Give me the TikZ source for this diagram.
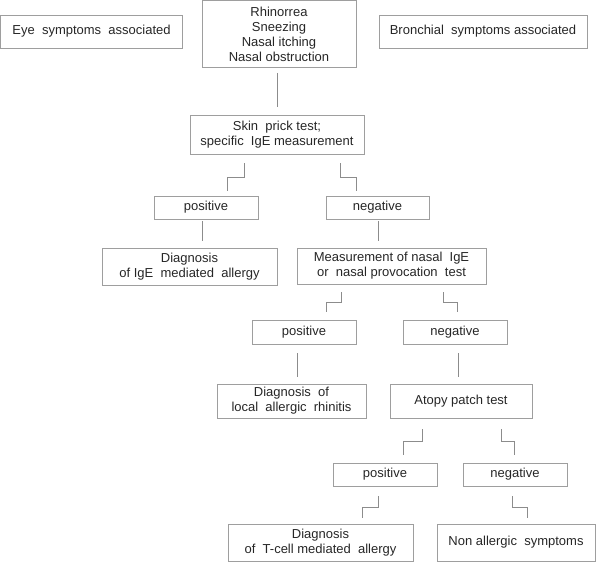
\documentclass[tikz,border=0pt]{standalone}
\usepackage{fontspec}
\setmainfont{Liberation Sans}
\usetikzlibrary{calc}
\begin{document}
\begin{tikzpicture}[x=1pt,y=-1pt,
  box/.style={draw=black!38, line width=0.8pt, inner sep=0pt, align=center,
    text=black!85, font=\fontsize{13}{15}\selectfont},
  conn/.style={draw=black!45, line width=0.8pt}]
\useasboundingbox (0,0) rectangle (600,562);
\node[box, minimum width=182pt, minimum height=33pt] (eye) at (91.5,31.5) {Eye~ symptoms~ associated};
\node[box, minimum width=154pt, minimum height=67pt] (top) at (279,34) {Rhinorrea\\Sneezing\\Nasal itching\\Nasal obstruction};
\node[box, minimum width=208pt, minimum height=33pt] (bron) at (483,31.5) {Bronchial~ symptoms associated};
\node[box, minimum width=174pt, minimum height=39pt] (skin) at (277,134.5) {Skin~ prick test;\\specific~ IgE measurement};
\node[box, minimum width=104pt, minimum height=23pt] (pos1) at (206,207.5) {positive};
\node[box, minimum width=103pt, minimum height=23pt] (neg1) at (377.5,207.5) {negative};
\node[box, minimum width=175pt, minimum height=37pt] (diagige) at (189.5,266.5) {Diagnosis\\of IgE~ mediated~ allergy};
\node[box, minimum width=189pt, minimum height=36pt] (meas) at (391.5,266) {Measurement of nasal~ IgE\\or~ nasal provocation~ test};
\node[box, minimum width=104pt, minimum height=24pt] (pos2) at (304,332) {positive};
\node[box, minimum width=104pt, minimum height=24pt] (neg2) at (455,332) {negative};
\node[box, minimum width=149pt, minimum height=34pt] (local) at (291.5,401) {Diagnosis~ of\\local~ allergic~ rhinitis};
\node[box, minimum width=142pt, minimum height=34pt] (atopy) at (461,401) {Atopy patch test};
\node[box, minimum width=104pt, minimum height=23pt] (pos3) at (385,474.5) {positive};
\node[box, minimum width=104pt, minimum height=23pt] (neg3) at (515,474.5) {negative};
\node[box, minimum width=185pt, minimum height=37pt] (tcell) at (320.5,542.5) {Diagnosis\\of~ T-cell mediated~ allergy};
\node[box, minimum width=158pt, minimum height=37pt] (nonall) at (516,542.5) {Non allergic~ symptoms};
% connectors
\draw[conn] ($(top.south)+(-2,5)$) -- ($(skin.north)+(0,-8)$);
\draw[conn] ($(skin.south)+(-33,9)$) -- ++(0,14) -| ($(pos1.north)+(21,-5)$);
\draw[conn] ($(skin.south)+(63,9)$) -- ++(0,14) -| ($(neg1.north)+(-21.5,-5)$);
\draw[conn] ($(pos1.south)+(-4,2)$) -- ($(diagige.north)+(12.5,-7)$);
\draw[conn] ($(neg1.south)+(0.5,2)$) -- ($(meas.north)+(-13.5,-7)$);
\draw[conn] ($(meas.south)+(-50.5,8)$) -- ++(0,10) -| ($(pos2.north)+(22,-8)$);
\draw[conn] ($(meas.south)+(51.5,8)$) -- ++(0,10) -| ($(neg2.north)+(2,-8)$);
\draw[conn] ($(pos2.south)+(-7,9)$) -- ($(local.north)+(5.5,-7)$);
\draw[conn] ($(neg2.south)+(3,9)$) -- ($(atopy.north)+(-3,-7)$);
\draw[conn] ($(atopy.south)+(-39,11)$) -- ++(0,12) -| ($(pos3.north)+(18,-8)$);
\draw[conn] ($(atopy.south)+(40,11)$) -- ++(0,12) -| ($(neg3.north)+(-1,-8)$);
\draw[conn] ($(pos3.south)+(-7,10)$) -- ++(0,11) -| ($(tcell.north)+(41.5,-6)$);
\draw[conn] ($(neg3.south)+(-3,10)$) -- ++(0,11) -| ($(nonall.north)+(11,-6)$);
\end{tikzpicture}
\end{document}
